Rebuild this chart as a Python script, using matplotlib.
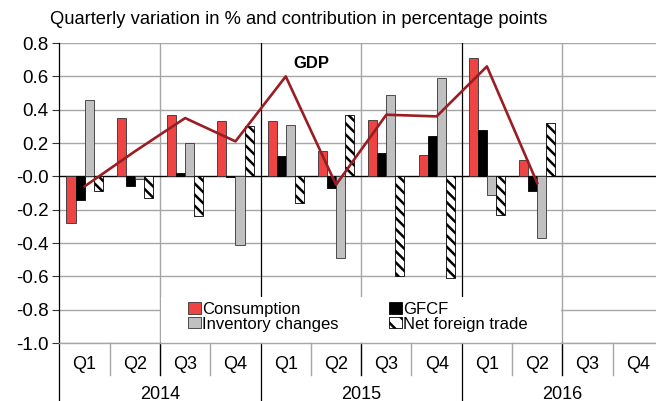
import matplotlib
matplotlib.use("Agg")
import matplotlib.pyplot as plt
from matplotlib.patches import Patch, Rectangle
import numpy as np

plt.rcParams['font.family'] = ['Liberation Sans', 'DejaVu Sans']
plt.rcParams['axes.unicode_minus'] = False
plt.rcParams['hatch.linewidth'] = 1.8

quarters = ["Q1", "Q2", "Q3", "Q4"] * 3
years = ["2014", "2015", "2016"]

# contributions in percentage points (2016 Q3/Q4 not yet available)
consumption = [-0.28, 0.35, 0.37, 0.33, 0.33, 0.15, 0.34, 0.13, 0.71, 0.10]
gfcf = [-0.14, -0.06, 0.02, -0.005, 0.12, -0.07, 0.14, 0.24, 0.28, -0.09]
inventory = [0.46, -0.015, 0.20, -0.41, 0.31, -0.49, 0.49, 0.59, -0.11, -0.37]
net_trade = [-0.09, -0.13, -0.24, 0.30, -0.16, 0.37, -0.60, -0.61, -0.23, 0.32]
gdp = [-0.06, 0.15, 0.35, 0.21, 0.60, -0.05, 0.37, 0.36, 0.66, -0.04]

red = "#EE4443"
gdp_col = "#9B1D24"
grid_col = "#A6A6A6"
fs = 13

fig = plt.figure(figsize=(6.56, 4.01), dpi=100)
ax = fig.add_axes([0.0906, 0.1446, 0.920, 0.748])

x = np.arange(len(consumption))
w = 0.18
ax.bar(x - 1.5 * w, consumption, w, color=red, edgecolor="#333333", lw=0.6, zorder=2)
ax.bar(x - 0.5 * w, gfcf, w, color="black", edgecolor="black", lw=0.6, zorder=2)
ax.bar(x + 0.5 * w, inventory, w, color="#C0C0C0", edgecolor="#333333", lw=0.6, zorder=2)
ax.bar(x + 1.5 * w, net_trade, w, color="white", edgecolor="black", lw=0.6,
       hatch="\\\\\\", zorder=2)
ax.plot(x, gdp, color=gdp_col, lw=1.9, zorder=3)
ax.text(4.5, 0.68, "GDP", fontsize=12, fontweight="bold", ha="center", va="center")

ax.set_xlim(-0.5, 11.5)
ax.set_ylim(-1.0, 0.8)
ax.set_yticks(np.arange(-1.0, 0.81, 0.2))
ax.set_yticklabels([f"{v:.1f}" for v in np.arange(-1.0, 0.81, 0.2)], fontsize=13.5)
ax.tick_params(axis="y", length=5, width=0.8, pad=3, color="#333333")
ax.set_xticks([])
ax.yaxis.grid(True, color=grid_col, lw=1.0)
ax.set_axisbelow(True)
ax.axhline(0, color="black", lw=0.9, zorder=1.8)

for s in ["top", "right"]:
    ax.spines[s].set_visible(False)
ax.spines["left"].set_color("black")
ax.spines["left"].set_linewidth(0.9)
ax.spines["bottom"].set_color(grid_col)
ax.spines["bottom"].set_linewidth(1.0)

# vertical separators in the plot
for xv in [1.5, 5.5, 9.5]:
    ax.axvline(xv, color=grid_col, lw=1.0, zorder=1)
for xv in [3.5, 7.5]:
    ax.axvline(xv, color="black", lw=0.9, zorder=1)

# white box behind the legend
ax.add_patch(Rectangle((1.52, -1.0), 7.96, 0.274, facecolor="white",
                       edgecolor="none", zorder=1.5))

handles = [Patch(facecolor=red, edgecolor="#333333", lw=0.6),
           Patch(facecolor="#C0C0C0", edgecolor="#333333", lw=0.6),
           Patch(facecolor="black", edgecolor="black", lw=0.6),
           Patch(facecolor="white", edgecolor="black", lw=0.6, hatch="\\\\")]
labels = ["Consumption", "Inventory changes", "GFCF", "Net foreign trade"]
ax.legend(handles, labels, ncol=2, frameon=False, fontsize=12,
          loc="upper left", bbox_to_anchor=(0.213, 0.137), borderpad=0,
          borderaxespad=0, handlelength=0.78, handleheight=0.66,
          handletextpad=0.08, labelspacing=-0.02, columnspacing=3.0)

# category axis below the plot
trans = ax.get_xaxis_transform()
for i in range(11):
    xv = i + 0.5
    if (i + 1) % 4 == 0:
        continue
    col = "black" if (i + 1) % 4 == 2 else grid_col
    ax.plot([xv, xv], [0, -0.107], color=col, lw=1.0, transform=trans, clip_on=False)
for xv in [-0.5, 3.5, 7.5]:
    ax.plot([xv, xv], [0, -0.25], color="black", lw=0.9, transform=trans, clip_on=False)
for i, q in enumerate(quarters):
    ax.text(i, -0.07, q, transform=trans, ha="center", va="center", fontsize=fs)
for j, yr in enumerate(years):
    ax.text(4 * j + 1.5, -0.17, yr, transform=trans, ha="center", va="center", fontsize=fs)

fig.text(50 / 656, 1 - 19 / 401, "Quarterly variation in % and contribution in percentage points",
         fontsize=13.2, ha="left", va="center")

fig.savefig("out.png", dpi=100)
